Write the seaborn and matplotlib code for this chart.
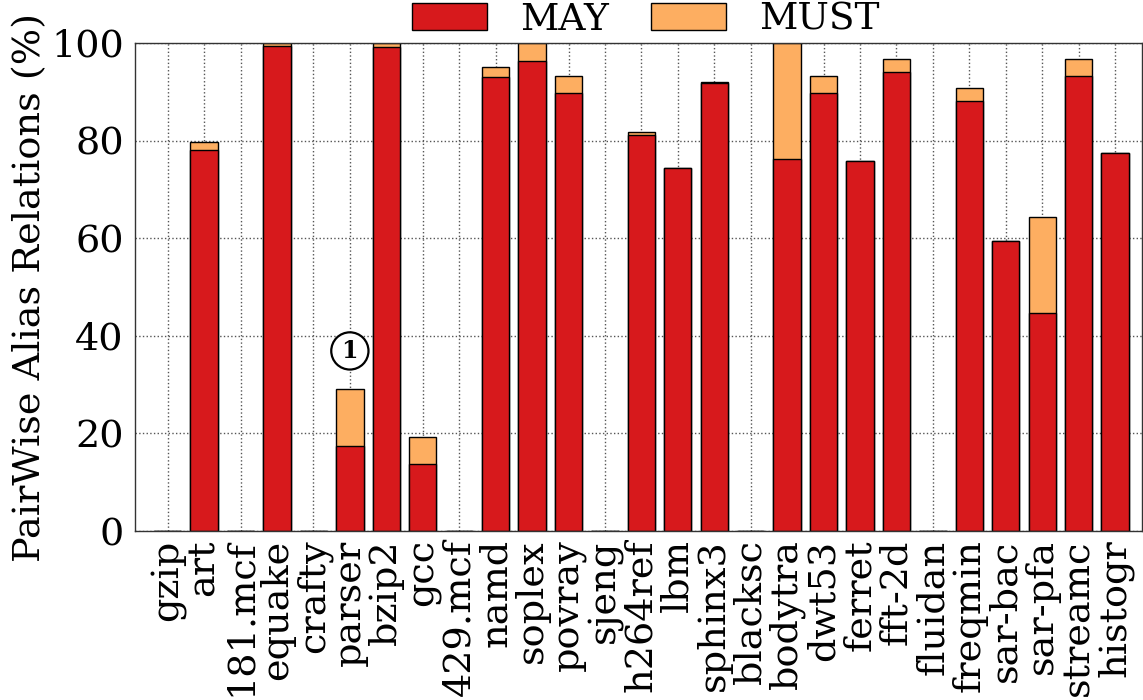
import seaborn as sns
import matplotlib.pyplot as plt
import pandas as pd
from matplotlib.patches import Patch

# benchmarks and alias percentages
benchmarks = ['gzip', 'art', '181.mcf', 'equake', 'crafty', 'parser', 'bzip2', 'gcc',
              '429.mcf', 'namd', 'soplex', 'povray', 'sjeng', 'h264ref', 'lbm', 'sphinx3',
              'blacksc', 'bodytra', 'dwt53', 'ferret', 'fft-2d', 'fluidan', 'freqmin',
              'sar-bac', 'sar-pfa', 'streamc', 'histogr']
may = [0, 78.0, 0, 99.3, 0, 17.4, 99.1, 13.7,
       0, 93.1, 96.3, 89.7, 0, 81.2, 74.3, 91.9,
       0, 76.2, 89.7, 75.8, 94.0, 0, 88.1,
       59.4, 44.7, 93.2, 77.4]
must = [0, 1.7, 0, 0.7, 0, 11.7, 0.9, 5.6,
        0, 1.9, 3.7, 3.5, 0, 0.6, 0, 0.1,
        0, 23.8, 3.5, 0, 2.7, 0, 2.7,
        0, 19.6, 3.5, 0]

df = pd.DataFrame({'bench': benchmarks, 'MAY': may, 'MUST': must})
df['total'] = df['MAY'] + df['MUST']

c_may = '#d7191c'
c_must = '#fdae61'

sns.set_style('white')
plt.rcParams['font.family'] = ['DejaVu Serif']
plt.rcParams['font.size'] = 27
for k in ['text.color', 'axes.labelcolor', 'xtick.color', 'ytick.color']:
    plt.rcParams[k] = 'black'

fig = plt.figure(figsize=(11.43, 7), dpi=100)
ax = fig.add_axes([0.118, 0.2414, 0.8815, 0.6972])

# stacked bars: total (MUST on top) first, then MAY over it
sns.barplot(data=df, x='bench', y='total', order=benchmarks, color=c_must, saturation=1,
            width=0.75, edgecolor='black', linewidth=1, ax=ax)
sns.barplot(data=df, x='bench', y='MAY', order=benchmarks, color=c_may, saturation=1,
            width=0.75, edgecolor='black', linewidth=1, ax=ax)

ax.set_ylim(0, 100)
ax.set_xlim(-0.9, 26.75)
ax.set_yticks([0, 20, 40, 60, 80, 100])
ax.set_xlabel('')
ax.set_ylabel('PairWise Alias Relations (%)', fontsize=27.5, labelpad=2)
ax.tick_params(axis='x', labelrotation=90, labelsize=27.5, length=0, pad=6)
ax.tick_params(axis='y', labelsize=27.5, length=0, pad=8)
ax.grid(True, linestyle=':', color='#555555', linewidth=1)
ax.set_axisbelow(True)
for s in ax.spines.values():
    s.set_color('#333333')
    s.set_linewidth(1)

# circled marker above parser
ax.text(5, 36.9, '1', ha='center', va='center', fontsize=17, fontweight='bold',
        bbox=dict(boxstyle='circle,pad=0.28', fc='white', ec='black', lw=1.6))

handles = [Patch(facecolor=c_may, edgecolor='black', label='MAY'),
           Patch(facecolor=c_must, edgecolor='black', label='MUST')]
fig.legend(handles=handles, loc='center', bbox_to_anchor=(0.565, 0.972), ncol=2,
           frameon=False, fontsize=27, handlelength=2.0, handleheight=0.75,
           handletextpad=0.9, columnspacing=1.1)

fig.savefig('out.png', dpi=100)
